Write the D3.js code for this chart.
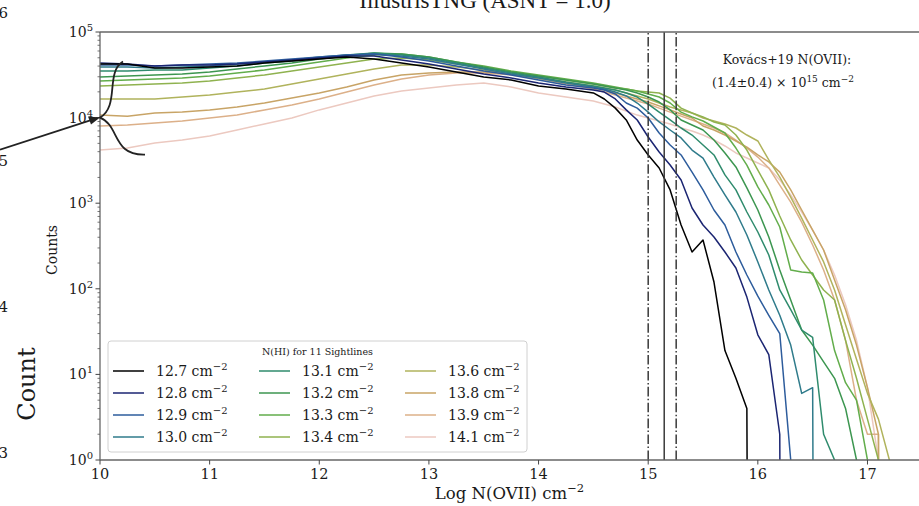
<!DOCTYPE html>
<html>
<head>
<meta charset="utf-8">
<script src="https://cdn.jsdelivr.net/npm/d3@7"></script>
<style>
  body { margin: 0; background: #fff; }
  svg text { font-family: "DejaVu Serif", serif; fill: #1a1a1a; }
</style>
</head>
<body>
<svg id="chart" width="919" height="506"></svg>
<script>
// log N(OVII) bin centres
var binCenters = [10.0, 10.25, 10.5, 10.75, 11.0, 11.25, 11.5, 11.75, 12.0, 12.25, 12.5, 12.75, 13.0, 13.25, 13.5, 13.75, 14.0, 14.25, 14.5,
  14.6, 14.7, 14.8, 14.9, 15.0, 15.1, 15.2, 15.3, 15.4, 15.5, 15.6, 15.7, 15.8, 15.9, 16.0, 16.1, 16.2, 16.3, 16.4, 16.5, 16.6, 16.7, 16.8, 16.9, 17.0, 17.1, 17.2, 17.3];

var nhiLabels = ["12.7", "12.8", "12.9", "13.0", "13.1", "13.2", "13.3", "13.4", "13.6", "13.8", "13.9", "14.1"];
var lineColors = ["#000000", "#1b2572", "#2d5c9c", "#2f7b8b", "#2f8b6d", "#3c9650", "#62ad4b", "#8fb24f", "#b0b35c", "#c8a466", "#dcb089", "#ecc9c0"];

var counts127 = [42300, 42300, 38000, 38000, 39000, 40100, 43400, 45800, 48400, 51000, 48400, 43400, 39000, 34100, 29800, 27500, 23400, 21600, 19400,
  16500, 12900, 9380, 5470, 3660, 2580, 1430, 556, 269, 372, 120, 19, 9, 4,
  0, 0, 0, 0, 0, 0, 0, 0, 0, 0, 0, 0, 0, 0];
var counts128 = [43400, 42300, 40100, 41200, 41200, 42300, 44600, 47100, 49700, 52400, 52400, 47100, 42300, 37000, 32300, 29000, 25400, 22800, 21000,
  19900, 16500, 12300, 9380, 5930, 3960, 2790, 1870, 879, 556, 403, 269, 175, 80, 29, 17, 2,
  0, 0, 0, 0, 0, 0, 0, 0, 0, 0, 0];
var counts129 = [41200, 41200, 40100, 41200, 42300, 43400, 45800, 48400, 51000, 53900, 55300, 51000, 45800, 40100, 35000, 31500, 27500, 24000, 22200,
  21000, 18900, 14800, 12900, 9890, 6610, 4790, 3660, 2310, 1430, 833, 556, 269, 145, 82, 49, 30, 1,
  0, 0, 0, 0, 0, 0, 0, 0, 0, 0];
var counts130 = [39000, 39000, 38000, 39000, 40100, 42300, 44600, 47100, 51000, 53900, 55300, 52400, 48400, 42300, 37000, 32300, 29000, 25400, 22800,
  21600, 19900, 17900, 14800, 11600, 8890, 7160, 5780, 4180, 3370, 2020, 1250, 789, 425, 206, 97, 49, 22, 6, 7,
  0, 0, 0, 0, 0, 0, 0, 0];
var counts131 = [35000, 35000, 36000, 36000, 38000, 40100, 43400, 45800, 49700, 53900, 56900, 53900, 49700, 43400, 38000, 33200, 29800, 26100, 23400,
  22200, 21000, 19400, 17400, 14400, 11600, 9380, 7560, 6260, 4790, 3660, 2140, 1430, 789, 461, 248, 97, 57, 33, 27, 2, 1,
  0, 0, 0, 0, 0, 0];
var counts132 = [29800, 30600, 31500, 32300, 34100, 37000, 40100, 43400, 48400, 52400, 56900, 55300, 51000, 44600, 39000, 34100, 30600, 27500, 24700,
  23400, 22200, 21000, 19400, 17400, 15200, 12300, 9380, 8200, 7160, 5470, 3860, 2650, 1510, 833, 403, 166, 74, 33, 22, 14, 9, 4, 1,
  0, 0, 0, 0];
var counts133 = [26800, 27500, 28200, 29000, 30600, 33200, 36000, 40100, 44600, 49700, 53900, 55300, 51000, 44600, 40100, 35000, 31500, 28200, 25400,
  24000, 22800, 21600, 20400, 18900, 17400, 14800, 11600, 10200, 9130, 7770, 6610, 4410, 2790, 1550, 953, 527, 166, 157, 153, 74, 19, 8, 5, 1,
  0, 0, 0];
var counts134 = [23400, 24000, 24700, 25400, 26800, 29000, 31500, 35000, 39000, 43400, 48400, 49700, 47100, 42300, 38000, 34100, 30600, 27500, 24700,
  23400, 22200, 21600, 20400, 19900, 19400, 16900, 12900, 11300, 10200, 8890, 8200, 6260, 4180, 2440, 1430, 709, 372, 217, 145, 97, 74, 25, 9, 3, 1,
  0, 0];
var counts136 = [16500, 16500, 16500, 17400, 18400, 19900, 21600, 24700, 28200, 32300, 37000, 41200, 41200, 39000, 36000, 32300, 29000, 26100, 23400,
  22200, 21000, 19400, 17900, 16500, 14800, 13300, 12300, 11300, 9890, 9130, 8420, 7560, 6260, 5330, 3200, 2020, 1180, 671, 372, 206, 97, 38, 15, 6, 3, 1,
  0];
var counts138 = [10700, 10400, 11300, 11600, 12300, 13300, 14800, 16900, 19400, 22800, 27500, 31500, 33200, 34100, 34100, 32300, 29000, 25400, 22200,
  21000, 19400, 17900, 16500, 15200, 13700, 12300, 11000, 9890, 7980, 7160, 6260, 5330, 4530, 3660, 3030, 2310, 1430, 833, 486, 284, 127, 57, 22, 7, 2,
  0, 0];
var counts139 = [7980, 8200, 8650, 9130, 9890, 10700, 12300, 14000, 16500, 19900, 24000, 28200, 31500, 33200, 33200, 31500, 28200, 24700, 21600,
  19900, 18400, 16900, 15600, 14400, 12900, 11600, 10400, 9380, 8420, 7560, 6610, 5470, 4410, 3460, 2580, 1630, 1030, 600, 325, 166, 74, 25, 5, 2, 2,
  0, 0];
var counts141 = [4180, 4410, 5050, 5470, 6100, 7160, 8420, 9890, 12300, 14800, 17900, 20400, 22200, 24000, 25400, 22800, 19400, 17400, 15600,
  14400, 13300, 11900, 10700, 9890, 9130, 8420, 7560, 6980, 6260, 5470, 4660, 3860, 3370, 2950, 2580, 1870, 1250, 789, 486, 284, 145, 65, 25, 7, 1,
  0, 0];

var allCounts = [counts127, counts128, counts129, counts130, counts131, counts132, counts133, counts134, counts136, counts138, counts139, counts141];

// Kovacs+19 measurement: (1.4 +- 0.4) x 10^15
var obsLogN = [Math.log10(1.0e15), Math.log10(1.4e15), Math.log10(1.8e15)];
var obsStyle = ["dashdot", "solid", "dashdot"];

var xTicks = [10, 11, 12, 13, 14, 15, 16, 17];
var yTickExps = [0, 1, 2, 3, 4, 5];

var svg = d3.select("#chart");
var W = 919, H = 506;
var margin = { left: 100, top: 32, right: 0, bottom: 46 };

var x = d3.scaleLinear().domain([10, 17.47]).range([margin.left, W - margin.right]);
var y = d3.scaleLog().domain([1, 1e5]).range([H - margin.bottom, margin.top]);

svg.append("defs").append("clipPath").attr("id", "plotclip")
  .append("rect")
  .attr("x", x.range()[0]).attr("y", y.range()[1])
  .attr("width", x.range()[1] - x.range()[0])
  .attr("height", y.range()[0] - y.range()[1]);

// series lines, empty bins are pushed far below the axis like matplotlib's clip
var line = d3.line()
  .x(function (d) { return x(d[0]); })
  .y(function (d) { return y(d[1] > 0 ? d[1] : 1e-30); });

var plot = svg.append("g").attr("clip-path", "url(#plotclip)");

for (var s = allCounts.length - 1; s >= 0; s--) {
  var pts = binCenters.map(function (b, i) { return [b, allCounts[s][i]]; });
  plot.append("path")
    .datum(pts)
    .attr("d", line)
    .attr("fill", "none")
    .attr("stroke", lineColors[s])
    .attr("stroke-width", 1.5)
    .attr("stroke-linejoin", "round");
}

// observation lines
obsLogN.forEach(function (v, i) {
  plot.append("line")
    .attr("x1", x(v)).attr("x2", x(v))
    .attr("y1", y(1)).attr("y2", y(1e5))
    .attr("stroke", "#3a3a3a")
    .attr("stroke-width", 1.5)
    .attr("stroke-dasharray", obsStyle[i] == "dashdot" ? "9.6,2.4,1.5,2.4" : null);
});

// spines
var axisColor = "#666";
svg.append("line").attr("x1", x.range()[0]).attr("x2", x.range()[1]).attr("y1", y(1e5)).attr("y2", y(1e5))
  .attr("stroke", axisColor).attr("stroke-width", 1.3);
svg.append("line").attr("x1", x.range()[0]).attr("x2", x.range()[1]).attr("y1", y(1)).attr("y2", y(1))
  .attr("stroke", axisColor).attr("stroke-width", 1.3);
svg.append("line").attr("x1", x.range()[0]).attr("x2", x.range()[0]).attr("y1", y(1)).attr("y2", y(1e5))
  .attr("stroke", axisColor).attr("stroke-width", 1.3);

// x ticks
var xg = svg.append("g");
xTicks.forEach(function (t) {
  xg.append("line").attr("x1", x(t)).attr("x2", x(t)).attr("y1", y(1)).attr("y2", y(1) + 4.5)
    .attr("stroke", "#444").attr("stroke-width", 1);
  xg.append("text").attr("x", x(t)).attr("y", y(1) + 19)
    .attr("text-anchor", "middle").attr("font-size", 14.5).text(t);
});

// y ticks (log, with minor ticks)
var yg = svg.append("g");
yTickExps.forEach(function (e) {
  var v = Math.pow(10, e);
  yg.append("line").attr("x1", x.range()[0] - 4.5).attr("x2", x.range()[0]).attr("y1", y(v)).attr("y2", y(v))
    .attr("stroke", "#444").attr("stroke-width", 1);
  var t = yg.append("text").attr("x", x.range()[0] - 7).attr("y", y(v) + 5)
    .attr("text-anchor", "end").attr("font-size", 14);
  t.append("tspan").text("10");
  t.append("tspan").attr("dy", -6).attr("font-size", 10).text(e);
  if (e < 5) {
    for (var m = 2; m < 10; m++) {
      yg.append("line").attr("x1", x.range()[0] - 2.5).attr("x2", x.range()[0])
        .attr("y1", y(m * v)).attr("y2", y(m * v))
        .attr("stroke", "#555").attr("stroke-width", 0.8);
    }
  }
});

// axis labels
var xl = svg.append("text").attr("x", (x.range()[0] + x.range()[1]) / 2).attr("y", 499)
  .attr("text-anchor", "middle").attr("font-size", 16.5);
xl.append("tspan").text("Log N(OVII) cm");
xl.append("tspan").attr("dy", -7).attr("font-size", 11.5).text("\u22122");

svg.append("text").attr("transform", "translate(57,250) rotate(-90)")
  .attr("text-anchor", "middle").attr("font-size", 14).text("Counts");

// title (cut off at top of the frame)
svg.append("text").attr("x", 485).attr("y", 8)
  .attr("text-anchor", "middle").attr("font-size", 23)
  .style("font-family", "'Liberation Serif', serif")
  .text("IllustrisTNG (ASNT = 1.0)");

// Kovacs annotation
svg.append("text").attr("x", 787).attr("y", 64).attr("text-anchor", "middle").attr("font-size", 12.5)
  .text("Kov\u00e1cs+19 N(OVII):");
var k2 = svg.append("text").attr("x", 783).attr("y", 87).attr("text-anchor", "middle").attr("font-size", 12.5);
k2.append("tspan").text("(1.4\u00b10.4) \u00d7 10");
k2.append("tspan").attr("dy", -5).attr("font-size", 9).text("15");
k2.append("tspan").attr("dy", 5).text(" cm");
k2.append("tspan").attr("dy", -5).attr("font-size", 9).text("\u22122");

// legend
var lg = svg.append("g").attr("transform", "translate(108,341)");
lg.append("rect").attr("width", 419).attr("height", 111).attr("rx", 3)
  .attr("fill", "#fff").attr("fill-opacity", 0.85).attr("stroke", "#d0d0d0");
lg.append("text").attr("x", 209.5).attr("y", 14).attr("text-anchor", "middle").attr("font-size", 9.5)
  .text("N(HI) for 11 Sightlines");
nhiLabels.forEach(function (lab, i) {
  var col = Math.floor(i / 4), row = i % 4;
  var gx = 5 + col * 146, gy = 30 + row * 22;
  lg.append("line").attr("x1", gx).attr("x2", gx + 31).attr("y1", gy).attr("y2", gy)
    .attr("stroke", lineColors[i]).attr("stroke-width", 1.5);
  var t = lg.append("text").attr("x", gx + 43).attr("y", gy + 5).attr("font-size", 14);
  t.append("tspan").text(lab + " cm");
  t.append("tspan").attr("dy", -6).attr("font-size", 10).text("\u22122");
});

// pieces of the neighbouring panel overlapping on the left
var side = svg.append("g");
[["6", 18], ["5", 166], ["4", 312], ["3", 458]].forEach(function (d) {
  side.append("text").attr("x", 8).attr("y", d[1]).attr("text-anchor", "end").attr("font-size", 15).text(d[0]);
});
side.append("text").attr("transform", "translate(35,384) rotate(-90)")
  .attr("text-anchor", "middle").attr("font-size", 24).text("Count");

// arrow and brace pointing at the 10^4 level
var tipX = x(10), tipY = y(1e4);
side.append("line").attr("x1", 0).attr("y1", tipY + 32).attr("x2", tipX - 9).attr("y2", tipY + 2.5)
  .attr("stroke", "#222").attr("stroke-width", 1.8);
side.append("path")
  .attr("d", "M" + tipX + "," + tipY + " l-12,-1 l3,8 z")
  .attr("fill", "#222");
side.append("path")
  .attr("d", "M" + (tipX + 23) + "," + (tipY - 56) +
    " C" + (tipX + 5) + "," + (tipY - 45) + " " + (tipX + 20) + "," + (tipY - 12) + " " + tipX + "," + tipY +
    " C" + (tipX + 20) + "," + (tipY + 8) + " " + (tipX + 12) + "," + (tipY + 38) + " " + (tipX + 45) + "," + (tipY + 37))
  .attr("fill", "none").attr("stroke", "#222").attr("stroke-width", 1.8);
</script>
</body>
</html>
